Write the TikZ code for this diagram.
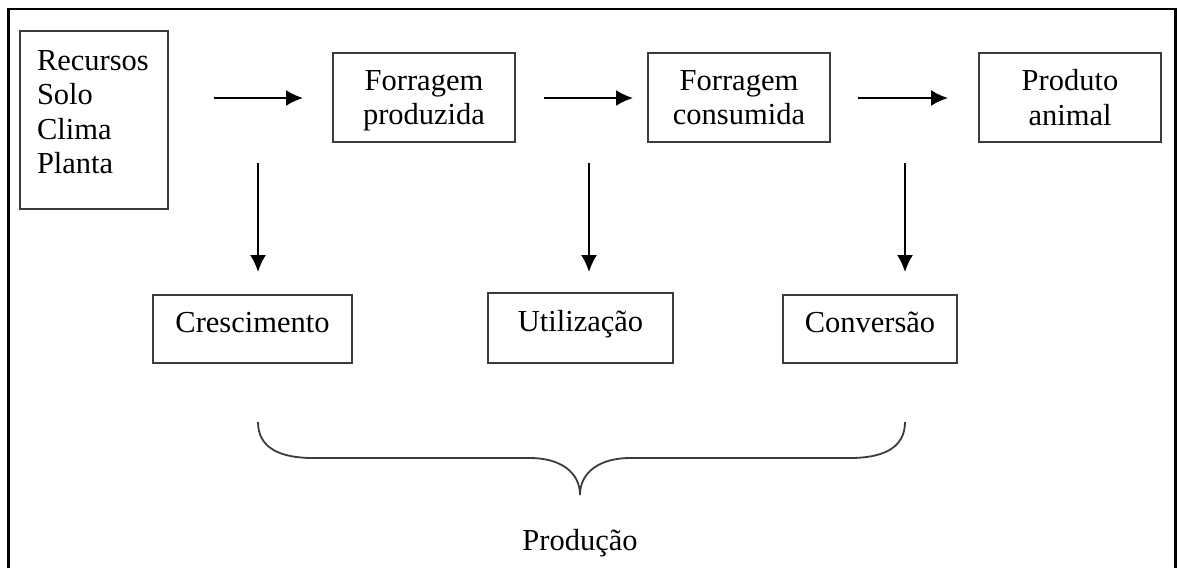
\documentclass[tikz,border=0pt]{standalone}
\usepackage{fontspec}
\setmainfont{Liberation Serif}
\usetikzlibrary{arrows.meta}
\definecolor{borda}{HTML}{3C3C3C}

\begin{document}
\begin{tikzpicture}[x=0.5pt,y=-0.5pt,
		caixa/.style={draw=borda,line width=1pt,inner sep=0pt,align=center},
		duas/.style={caixa,minimum width=91pt,minimum height=44.5pt,text depth=0pt},
		seta/.style={line width=1pt,-{Latex[length=8.5pt,width=8pt]}},
		every node/.style={font=\fontsize{15.25}{17.3}\selectfont}]
		\useasboundingbox (0,0) rectangle (1177,568);
		% moldura
		\draw[line width=1.2pt] (8.5,568) -- (8.5,9) -- (1175.5,9) -- (1175.5,568);
		% caixas de cima
		\node[caixa,align=left,text width=57pt,minimum width=74pt,minimum height=89pt,text height=10.5pt,text depth=60.5pt] (rec) at (94,120) {Recursos\\Solo\\Clima\\Planta};
		\node[duas] (fprod) at (424,97.5) {Forragem\\produzida};
		\node[duas] (fcons) at (739,97.5) {Forragem\\consumida};
		\node[duas] (panim) at (1070,97.5) {Produto\\animal};
		% caixas de baixo
		\node[caixa,minimum width=99.5pt,minimum height=34pt,text depth=7pt] (cresc) at (252.5,329) {Crescimento};
		\node[caixa,minimum width=92.5pt,minimum height=35pt,text depth=7pt] (util) at (580.5,328) {Utilização};
		\node[caixa,minimum width=87pt,minimum height=34pt,text depth=7pt] (conv) at (870,329) {Conversão};
		\node (prod) at (580,543) {Produção};
		% pontas das setas
		\coordinate (h1a) at (214,98); \coordinate (h1b) at (303,98);
		\coordinate (h2a) at (544,98); \coordinate (h2b) at (633,98);
		\coordinate (h3a) at (858,98); \coordinate (h3b) at (948,98);
		\coordinate (v1a) at (258,163); \coordinate (v1b) at (258,272);
		\coordinate (v2a) at (589,163); \coordinate (v2b) at (589,272);
		\coordinate (v3a) at (905,163); \coordinate (v3b) at (905,272);
		\draw[seta] (h1a) -- (h1b);
		\draw[seta] (h2a) -- (h2b);
		\draw[seta] (h3a) -- (h3b);
		\draw[seta] (v1a) -- (v1b);
		\draw[seta] (v2a) -- (v2b);
		\draw[seta] (v3a) -- (v3b);
		% chave
		\coordinate (ch1) at (258,422);
		\coordinate (ch2) at (905,422);
		\coordinate (bico) at (580,495);
		\draw[draw=borda,line width=0.9pt] (ch1) .. controls (258,448) and (280,458) .. (313,458) -- (530,458)
			.. controls (560,458) and (580,472) .. (bico)
			.. controls (580,472) and (600,458) .. (630,458) -- (850,458)
			.. controls (883,458) and (905,448) .. (ch2);
	\end{tikzpicture}
\end{document}
